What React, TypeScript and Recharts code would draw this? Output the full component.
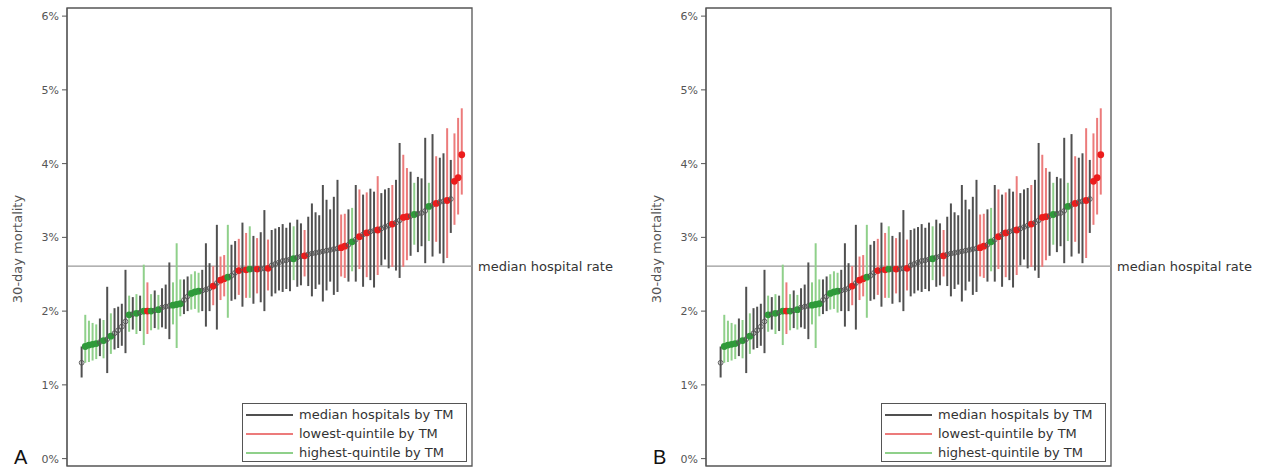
import React from "react";
import {
  ComposedChart,
  Scatter,
  ErrorBar,
  XAxis,
  YAxis,
  ReferenceLine,
  ReferenceArea,
  Legend,
} from "recharts";

// hospitals ranked by 30-day mortality (%), with 95% interval
const estimate = [
  1.3, 1.52, 1.54, 1.55, 1.56, 1.58, 1.6, 1.62, 1.66, 1.7,
  1.74, 1.79, 1.86, 1.95, 1.96, 1.97, 1.98, 2.0, 2.0, 2.0,
  2.01, 2.02, 2.05, 2.06, 2.07, 2.08, 2.09, 2.1, 2.15, 2.2,
  2.24, 2.26, 2.27, 2.28, 2.29, 2.31, 2.34, 2.38, 2.42, 2.44,
  2.46, 2.48, 2.52, 2.55, 2.56, 2.56, 2.57, 2.57, 2.57, 2.57,
  2.58, 2.58, 2.62, 2.64, 2.66, 2.68, 2.69, 2.7, 2.71, 2.73,
  2.74, 2.75, 2.77, 2.78, 2.79, 2.8, 2.81, 2.82, 2.83, 2.84,
  2.85, 2.86, 2.88, 2.9, 2.94, 2.97, 3.01, 3.04, 3.06, 3.08,
  3.09, 3.1, 3.12, 3.14, 3.16, 3.18, 3.2, 3.23, 3.27, 3.28,
  3.29, 3.31, 3.32, 3.33, 3.36, 3.42, 3.44, 3.46, 3.48, 3.49,
  3.5, 3.52, 3.76, 3.81, 4.12,
];

const ciLow = [
  1.1, 1.3, 1.31, 1.33, 1.35, 1.39, 1.36, 1.16, 1.42, 1.48,
  1.5, 1.53, 1.43, 1.72, 1.75, 1.69, 1.73, 1.54, 1.69, 1.74,
  1.77, 1.75, 1.78, 1.76, 1.62, 1.82, 1.5, 1.93, 1.96, 2.0,
  2.02, 2.03, 1.98, 2.0, 1.79, 2.0, 2.08, 1.75, 2.15, 2.2,
  1.91, 2.14, 2.16, 2.22, 2.06, 2.18, 2.18, 2.1, 2.24, 2.12,
  2.0, 2.28, 2.2, 2.24, 2.28, 2.26, 2.3, 2.27, 2.42, 2.33,
  2.35, 2.47, 2.34, 2.2, 2.3, 2.36, 2.13, 2.28, 2.4, 2.22,
  2.26, 2.47, 2.45, 2.4, 2.54, 2.4, 2.57, 2.33, 2.46, 2.42,
  2.32, 2.49, 2.62, 2.7, 2.58, 2.6, 2.55, 2.45, 2.6, 2.69,
  2.75, 2.9, 2.8, 2.88, 2.65, 2.95, 2.74, 2.94, 2.78, 2.65,
  2.72, 3.06, 3.17, 3.31, 3.58,
];

const ciHigh = [
  1.52, 1.95, 1.87, 1.84, 1.82, 1.9, 1.88, 2.33, 1.97, 2.04,
  2.06, 2.1, 2.56, 2.21, 2.19, 2.23, 2.21, 2.63, 2.39, 2.23,
  2.28, 2.22, 2.31, 2.36, 2.66, 2.39, 2.92, 2.43, 2.43, 2.47,
  2.5, 2.54, 2.52, 2.56, 2.92, 2.65, 2.61, 3.17, 2.74, 2.76,
  3.17, 2.9, 2.95, 2.98, 3.2, 3.06, 3.15, 3.02, 2.99, 3.07,
  3.37, 2.97, 3.1, 3.12, 3.14, 3.18, 3.13, 3.2, 3.15, 3.24,
  3.19, 3.1, 3.28, 3.46, 3.34, 3.3, 3.71, 3.51, 3.38, 3.55,
  3.78, 3.31, 3.32, 3.38, 3.4, 3.71, 3.65, 3.58, 3.61, 3.66,
  3.62, 3.83, 3.6, 3.65, 3.67, 3.71, 3.78, 4.28, 4.12, 3.94,
  3.89, 3.74, 3.82, 3.8, 4.35, 3.74, 4.4, 4.1, 4.08, 4.14,
  4.48, 4.05, 4.41, 4.62, 4.75,
];

// M = median hospitals, L = lowest quintile, H = highest quintile (by TM)
const tmGroupA = (
  "MHHHHMHMHM" + "MMMHMHMHLH" + "MHMMMHHHMM" + "HHHMMMLMLL" + "HMMLMLHMLM" +
  "MLMMMMMMHM" + "MLMMMMMMMM" + "MLLMHMLMLM" + "MLMMMLMMLL" + "MHMMMHMLMM" + "LMLLL"
).split("");
const tmGroupB = tmGroupA;

const yTicks = [0, 1, 2, 3, 4, 5, 6];
const medianRate = 2.61;

const legendItems = [
  { key: "M", label: "median hospitals by TM" },
  { key: "L", label: "lowest-quintile by TM" },
  { key: "H", label: "highest-quintile by TM" },
];

const barColor: Record<string, string> = { M: "#505050", L: "#ec7b7b", H: "#8fd08a" };
const dotColor: Record<string, string> = { L: "#ec1c1c", H: "#2f9a3a" };
const FONT = "'DejaVu Sans', Verdana, sans-serif";

const renderDot = (props: any) => {
  const { cx, cy, payload } = props;
  if (payload.group === "M") {
    return <circle cx={cx} cy={cy} r={2.4} fill="none" stroke="#555" strokeWidth={0.9} />;
  }
  return <circle cx={cx} cy={cy} r={3.4} fill={dotColor[payload.group]} />;
};

const renderLegend = () => (
  <div
    style={{
      border: "1px solid #555",
      background: "#fff",
      padding: "1px 0 0 3px",
      boxSizing: "border-box",
      height: 59,
      fontFamily: FONT,
      fontSize: 13,
      color: "#333",
    }}
  >
    {legendItems.map((item) => (
      <div key={item.key} style={{ display: "flex", alignItems: "center", height: 19 }}>
        <div style={{ width: 47, height: 2, background: barColor[item.key], marginRight: 6 }} />
        <span style={{ whiteSpace: "nowrap" }}>{item.label}</span>
      </div>
    ))}
  </div>
);

function Panel({ groups, letter, left }: { groups: string[]; letter: string; left: number }) {
  const rows = estimate.map((v, i) => ({
    rank: i,
    est: v,
    err: [+(v - ciLow[i]).toFixed(2), +(ciHigh[i] - v).toFixed(2)],
    group: groups[i],
  }));

  return (
    <div style={{ position: "absolute", left, top: 0, width: 628, height: 471 }}>
      <ComposedChart width={628} height={471} margin={{ top: 8, right: 156, bottom: 5, left: 22 }}>
        <XAxis dataKey="rank" type="number" domain={[-4, 106.8]} hide allowDataOverflow />
        <YAxis
          type="number"
          domain={[-0.1, 6.11]}
          ticks={yTicks}
          allowDataOverflow
          width={45}
          tickFormatter={(v) => `${v}%`}
          tick={{ fill: "#555", fontSize: 11, fontFamily: FONT }}
          tickSize={5}
          tickMargin={3}
          tickLine={{ stroke: "#555" }}
          axisLine={{ stroke: "#555" }}
          label={() => (
            <text
              x={22}
              y={249}
              transform="rotate(-90, 22, 249)"
              textAnchor="middle"
              fill="#555"
              fontSize={13}
              fontFamily={FONT}
            >
              30-day mortality
            </text>
          )}
        />
        <ReferenceArea x1={-4} x2={106.8} y1={-0.1} y2={6.11} fill="none" stroke="#555" strokeWidth={1.3} />
        <ReferenceLine
          y={medianRate}
          stroke="#999"
          strokeWidth={1.3}
          label={{ value: "median hospital rate", position: "right", offset: 6, fill: "#333", fontSize: 13, fontFamily: FONT }}
        />
        {["M", "L", "H"].map((g) => (
          <Scatter
            key={g}
            name={g}
            data={rows.filter((r) => r.group === g)}
            dataKey="est"
            shape={() => <g />}
            isAnimationActive={false}
            legendType="none"
          >
            <ErrorBar dataKey="err" direction="y" width={0} stroke={barColor[g]} strokeWidth={2} />
          </Scatter>
        ))}
        <Scatter data={rows} dataKey="est" shape={renderDot} isAnimationActive={false} legendType="none" />
        <Legend
          content={renderLegend}
          layout="vertical"
          align="center"
          verticalAlign="middle"
          wrapperStyle={{ left: 242, top: 403, width: 225, height: 59 }}
        />
      </ComposedChart>
      <div
        style={{
          position: "absolute",
          left: 14,
          top: 446,
          fontSize: 20,
          fontFamily: "'Liberation Sans', Arial, sans-serif",
          color: "#111",
          lineHeight: "22px",
        }}
      >
        {letter}
      </div>
    </div>
  );
}

export default function App() {
  return (
    <div style={{ position: "absolute", left: 0, top: 0, width: 1267, height: 471, background: "#fff" }}>
      <Panel groups={tmGroupA} letter="A" left={0} />
      <Panel groups={tmGroupB} letter="B" left={639} />
    </div>
  );
}
